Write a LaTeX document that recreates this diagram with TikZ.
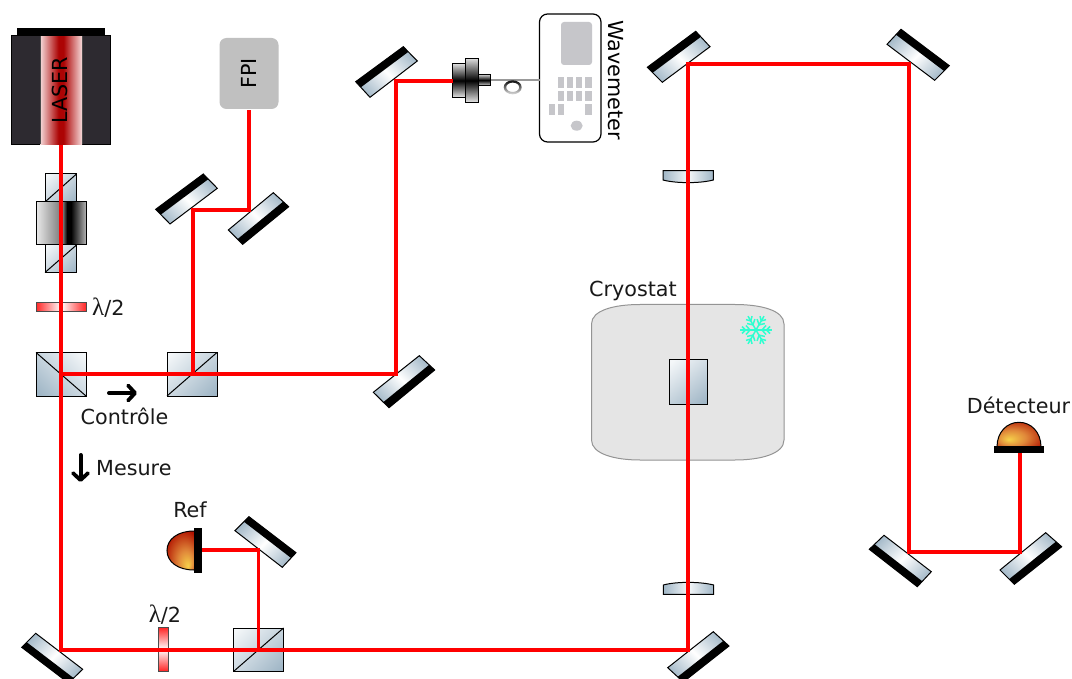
\documentclass[tikz,border=0pt]{standalone}
\usepackage{fontspec}
\setmainfont{DejaVu Sans}
\newfontfamily\lamfont{Liberation Serif}
\usetikzlibrary{calc,arrows.meta}
\definecolor{steel}{HTML}{A0B6C6}
\definecolor{pale}{HTML}{F4F7F9}
\definecolor{beamred}{HTML}{FF0000}
\definecolor{bodydark}{HTML}{2D2A30}
\definecolor{keygray}{HTML}{C6C6CA}
\definecolor{fpigray}{HTML}{C0C0C0}
\definecolor{icecyan}{HTML}{2EFFD0}
\definecolor{laspink}{HTML}{F6DADA}
\definecolor{lasred}{HTML}{AC0404}
\definecolor{domeyellow}{HTML}{F6D24A}
\definecolor{domeorange}{HTML}{E0883A}
\definecolor{domered}{HTML}{B01200}
\pgfdeclarehorizontalshading{mirrorgrad}{100bp}{color(0bp)=(steel);color(22bp)=(steel);color(50bp)=(white);color(78bp)=(steel);color(100bp)=(steel)}
\pgfdeclarehorizontalshading{cubegrad}{100bp}{color(0bp)=(pale);color(18bp)=(pale);color(82bp)=(steel);color(100bp)=(steel)}
\pgfdeclarehorizontalshading{lensgrad}{100bp}{color(0bp)=(steel);color(25bp)=(steel);color(50bp)=(pale);color(75bp)=(steel);color(100bp)=(steel)}
\pgfdeclarehorizontalshading{lasergrad}{100bp}{color(0bp)=(laspink);color(25bp)=(laspink);color(47bp)=(lasred);color(53bp)=(lasred);color(75bp)=(laspink);color(100bp)=(laspink)}
\pgfdeclarehorizontalshading{isograd}{100bp}{color(0bp)=(black!8);color(25bp)=(black!8);color(52bp)=(black!55);color(56bp)=(black);color(60bp)=(black);color(75bp)=(black!30);color(100bp)=(black!30)}
\pgfdeclarehorizontalshading{platevgrad}{100bp}{color(0bp)=(red!85);color(25bp)=(red!85);color(50bp)=(white);color(75bp)=(red!85);color(100bp)=(red!85)}
\pgfdeclareverticalshading{connectgrad}{100bp}{color(0bp)=(black!10);color(25bp)=(black!10);color(50bp)=(black);color(75bp)=(black!15);color(100bp)=(black!15)}
\pgfdeclareverticalshading{loopgrad}{100bp}{color(0bp)=(black!8);color(30bp)=(black!20);color(70bp)=(black!90);color(100bp)=(black!90)}
\pgfdeclareradialshading{refdome}{\pgfpoint{14bp}{-20bp}}{color(0bp)=(domeyellow);color(14bp)=(domeorange);color(34bp)=(domered);color(50bp)=(domered)}
\pgfdeclareradialshading{detdome}{\pgfpoint{-12bp}{-10bp}}{color(0bp)=(domeyellow);color(16bp)=(domeorange);color(36bp)=(domered);color(50bp)=(domered)}
\tikzset{
  beam/.style={draw=beamred,line width=4pt,line cap=butt,line join=miter},
  thinbeam/.style={draw=beamred,line width=3.2pt,line join=miter},
  edge/.style={draw=black,line width=1pt},
  label/.style={font=\fontsize{20.7}{24}\selectfont,inner sep=0pt,text=black!90},
  fat/.style={draw=black,line width=4pt,line cap=round,-{Straight Barb[length=7pt,width=15pt,line width=3.8pt,round]}},
  flake/.style={draw=icecyan,line width=1.5pt},
}
% black side A,B ; front side C (next to B), D (next to A) ; gradient angle
\newcommand{\optmirror}[5]{%
  \path[shading=mirrorgrad,shading angle=#5] (#1) -- (#2) -- (#3) -- (#4) -- cycle;
  \fill[black] (#1) -- (#2) -- ($(#2)!0.36!(#3)$) -- ($(#1)!0.36!(#4)$) -- cycle;
  \draw[black,line width=1pt,line join=miter] (#1) -- (#2) -- (#3) -- (#4) -- cycle;
}
% x0,y0,x1,y1, angle
\newcommand{\cubeshape}[5]{%
  \path[shading=cubegrad,shading angle=#5] (#1,#2) rectangle (#3,#4);
  \draw[edge] (#1,#2) rectangle (#3,#4);
}
\newcommand{\lamtext}{{\lamfont\fontsize{25}{25}\selectfont λ}/2}
\begin{document}
\begin{tikzpicture}[x=1pt,y=-1pt]
\useasboundingbox (0,0) rectangle (1072,679);
\clip (0,0) rectangle (1072,679);
\fill[white] (0,0) rectangle (1072,679);

% Cryostat
\draw[fill=black!10,draw=black!42,line width=1pt] (591.5,324) .. controls (591.5,310) and (615,304.5) .. (640,304.5) -- (735,304.5) .. controls (760,304.5) and (784,310) .. (784,324) -- (784,440) .. controls (784,454) and (760,460) .. (735,460) -- (640,460) .. controls (615,460) and (591.5,454) .. (591.5,440) -- cycle;
\node[label,anchor=west] (cryolabel) at (589,290.5) {Cryostat};
% Snowflake
\begin{scope}[shift={(756,330)}]
\foreach \a in {0,60,...,300}{
  \begin{scope}[rotate=\a]
  \draw[flake] (0,0) -- (16,0);
  \draw[flake] (6,0) -- (10,-4.5) (6,0) -- (10,4.5) (10.5,0) -- (14,-3.5) (10.5,0) -- (14,3.5);
  \end{scope}
}
\end{scope}
\cubeshape{669.5}{360}{707}{404}{-50}

% Coordinates for beams
\coordinate (lasout) at (60.5,145);
\coordinate (bs1) at (60.5,374);
\coordinate (mBL) at (60.5,649.5);
\coordinate (mBR) at (688,649.5);
\coordinate (mTL) at (688,64.5);
\coordinate (mTR) at (909,64.5);
\coordinate (mDL) at (909,551.5);
\coordinate (mDR) at (1020,551.5);
\coordinate (detin) at (1020,453);
\coordinate (bs2) at (192.7,374);
\coordinate (m4) at (396,374);
\coordinate (m3) at (396,81);
\coordinate (fib) at (453,81);
\coordinate (m1) at (192.7,210.5);
\coordinate (m2) at (248.5,210.5);
\coordinate (fpiin) at (248.5,110);
\coordinate (bs3) at (258.5,649.5);
\coordinate (mR) at (258.5,550);
\coordinate (refin) at (202,550);

% Mirrors
\optmirror{155.7,209.3}{203.3,174}{217.3,188.3}{170,224}{45}
\optmirror{288.7,206.7}{242.7,244.3}{228.3,230}{273.3,192.7}{45}
\optmirror{355.7,81.7}{403.3,46.7}{417.3,61}{370,97.3}{45}
\optmirror{434.7,370}{389,407.7}{373.3,392.3}{419.3,355.7}{45}
\optmirror{21.7,647.3}{68.5,683}{82.7,669.3}{35.7,633.3}{-45}
\optmirror{249,516.7}{296,552.7}{282.3,567.3}{235,530.7}{-45}
\optmirror{647.3,67.3}{695.7,31.3}{710,46.7}{662.3,82.3}{45}
\optmirror{901,29.3}{949.3,65.7}{934.7,80.3}{887,44.3}{-45}
\optmirror{869.3,549.3}{917.3,586.7}{931.3,571.7}{884,535.3}{-45}
\optmirror{1014.3,584.3}{1061.7,546.7}{1045.7,532.7}{1000,570}{45}
\optmirror{729,646}{683.3,682}{667.7,667.7}{713.3,631.7}{45}

% Laser
\fill[black] (17,28) rectangle (105,36);
\draw[fill=bodydark,draw=black,line width=1pt] (11.5,36) rectangle (110.5,145);
\path[shading=lasergrad] (40,36.5) rectangle (82,144.5);
\draw[black!70,line width=.6pt] (40,36.5) -- (40,144.5) (82,36.5) -- (82,144.5);
\node[label,rotate=90,text=black] (laserlabel) at (60,90.5) {LASER};

% Isolator
\cubeshape{45}{174}{76.5}{202}{-45}
\draw[edge] (45,202) -- (76.5,174);
\cubeshape{45}{245}{76.5}{272.5}{-45}
\draw[edge] (45,272.5) -- (76.5,245);
\path[shading=isograd] (36,202) rectangle (86,245);
\draw[edge] (36,202) rectangle (86,245);

% Half-wave plates
\path[shading=platevgrad] (36,303) rectangle (86,311.5);
\draw[black!70,line width=1pt] (36,303) rectangle (86,311.5);
\node[label,anchor=west] (lam1) at (92,307.5) {\lamtext};
\path[shading=platevgrad,shading angle=90] (158.7,627.5) rectangle (168.5,671);
\draw[black!70,line width=1pt] (158.7,627.5) rectangle (168.5,671);
\node[label] (lam2) at (165,614.5) {\lamtext};

% Cubes
\cubeshape{36}{352.5}{86}{396}{225}
\draw[edge] (36,352.5) -- (86,396);
\cubeshape{167}{352.5}{217}{396}{-45}
\draw[edge] (167,396) -- (217,352.5);
\cubeshape{233.5}{628}{283.5}{671.5}{-45}
\draw[edge] (233.5,671.5) -- (283.5,628);

% Lenses
\path[shading=lensgrad,shading angle=0] (663,170.7) -- (713.3,170.7) -- (713.3,180) .. controls (700,183.5) and (676,183.5) .. (663,180) -- cycle;
\draw[black,line width=1pt] (663,170.7) -- (713.3,170.7) -- (713.3,180) .. controls (700,183.5) and (676,183.5) .. (663,180) -- cycle;
\path[shading=lensgrad,shading angle=0] (663.3,594.3) -- (713.7,594.3) -- (713.7,585) .. controls (700,581.5) and (676,581.5) .. (663.3,585) -- cycle;
\draw[black,line width=1pt] (663.3,594.3) -- (713.7,594.3) -- (713.7,585) .. controls (700,581.5) and (676,581.5) .. (663.3,585) -- cycle;

% FPI
\node[fill=fpigray,rounded corners=7pt,minimum width=59pt,minimum height=71pt,inner sep=0pt] (fpi) at (249,73.5) {};
\node[label,rotate=90,text=black] (fpilabel) at (fpi.center) {FPI};

% Wavemeter
\draw[black,line width=1.2pt,fill=white,rounded corners=8pt] (539.5,14) rectangle (601,142);
\fill[keygray,rounded corners=3pt] (561,22) rectangle (592,65);
\foreach \xa/\xb in {558.3/564.3,567.3/573.3,576/582.3,585/591.7}{
  \fill[keygray] (\xa,77.3) rectangle (\xb,88);
  \fill[keygray] (\xa,90.7) rectangle (\xb,101.3);
}
\fill[keygray] (549.3,104.3) rectangle (555.3,114.7);
\fill[keygray] (558.3,104.3) rectangle (564.3,114.7);
\fill[keygray] (585,104.3) rectangle (591.7,114.7);
\fill[keygray] (576.7,125.7) ellipse [x radius=6,y radius=5];
\node[label,rotate=-90,text=black] (wavelabel) at (616,80) {Wavemeter};

% Fibre
\coordinate (wavein) at (539.5,80);
\draw[black!40,line width=1.4pt] (490,80) -- (wavein);
\path[shading=loopgrad,even odd rule] (512.7,87.3) ellipse [x radius=9,y radius=7] (512.7,87.3) ellipse [x radius=6.5,y radius=4.7];
\path[shading=connectgrad] (452.7,64) rectangle (465,97.3);
\draw[edge] (452.7,64) rectangle (465,97.3);
\path[shading=connectgrad] (465.7,58.7) rectangle (478,102.3);
\draw[edge] (465.7,58.7) rectangle (478,102.3);
\path[shading=connectgrad] (478,74.3) rectangle (490.7,86);
\draw[edge] (478,74.3) rectangle (490.7,86);

% Beams
\draw[beam] (lasout) -- (mBL) -- (mBR) -- (mTL) -- (mTR) -- (mDL) -- (mDR) -- (detin);
\draw[beam] (bs1) -- (m4) -- (m3) -- (fib);
\draw[beam] (bs2) -- (m1) -- (m2) -- (fpiin);
\draw[thinbeam] (bs3) -- (mR) -- (refin);

% Ref detector
\path[shading=refdome] (194,531) .. controls (178,531) and (167,539) .. (167,550.5) .. controls (167,562) and (178,570) .. (194,570) -- cycle;
\draw[black,line width=1pt] (194,531) .. controls (178,531) and (167,539) .. (167,550.5) .. controls (167,562) and (178,570) .. (194,570);
\fill[black] (194,528) rectangle (202,572.5);
\node[label] (reflabel) at (190,510) {Ref};

% Detecteur
\path[shading=detdome] (997,447) .. controls (997,432) and (1007,422.3) .. (1019,422.3) .. controls (1031,422.3) and (1041,432) .. (1041,447) -- cycle;
\draw[black,line width=1pt] (997,447) .. controls (997,432) and (1007,422.3) .. (1019,422.3) .. controls (1031,422.3) and (1041,432) .. (1041,447);
\fill[black] (994,446) rectangle (1044,453);
\node[label] (detlabel) at (1018.5,405) {Détecteur};

% Path labels
\node[label] (ctrl) at (124.5,416) {Contrôle};
\coordinate (ca) at (109,393);
\coordinate (cb) at (137,393);
\draw[fat] (ca) -- (cb);
\coordinate (ma) at (80.5,455);
\coordinate (mb) at (80.5,482);
\draw[fat] (ma) -- (mb);
\node[label,anchor=west] (mesure) at (96,468) {Mesure};
\end{tikzpicture}
\end{document}
